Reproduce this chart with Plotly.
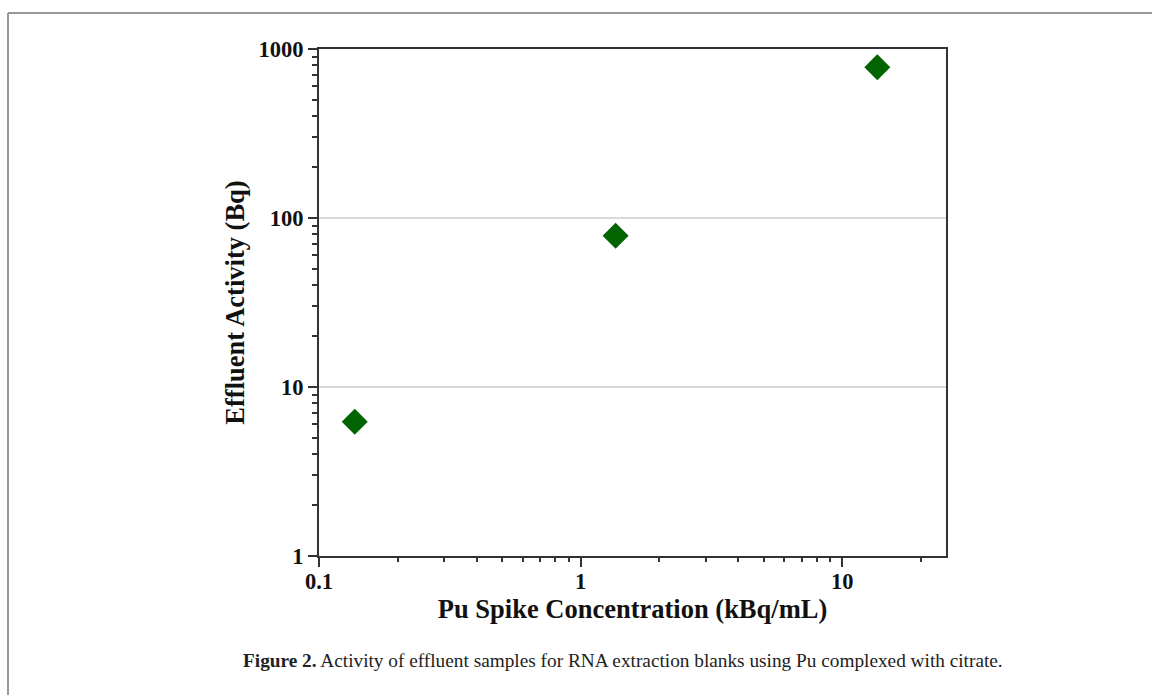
import plotly.graph_objects as go

# Data
spike_conc = [0.137, 1.36, 13.6]          # kBq/mL
effluent_activity = [6.23, 78.5, 779.0]   # Bq

x_tickvals = [0.1, 1, 10]
x_ticktext = ["0.1", "1", "10"]
y_tickvals = [1, 10, 100, 1000]
y_ticktext = ["1", "10", "100", "1000"]

W, H = 1152, 695
L, R, T, B = 319, 206, 49, 139
pw, ph = W - L - R, H - T - B

def px2paper_x(px):
    return (px - L) / pw

def px2paper_y(py):
    return (H - B - py) / ph

fig = go.Figure()
fig.add_trace(go.Scatter(
    x=spike_conc, y=effluent_activity, mode="markers",
    marker=dict(symbol="diamond", size=20, color="#006400",
                line=dict(width=0)),
    showlegend=False,
))

tickfont = dict(family="Liberation Serif", size=22.5, color="#111", weight="bold")
titlefont = dict(family="Liberation Serif", size=26.5, color="#111", weight="bold")

fig.update_xaxes(
    type="log", range=[-1, 1.396],
    tickvals=x_tickvals, ticktext=x_ticktext,
    ticks="outside", ticklen=9, tickwidth=2, tickcolor="#333",
    minor=dict(ticks="outside", ticklen=4, tickwidth=2, tickcolor="#333",
               dtick="D1", showgrid=False),
    showline=True, linecolor="#333", linewidth=2, mirror=True,
    showgrid=False, zeroline=False,
    tickfont=tickfont, ticklabelstandoff=-5,
    title=dict(text="Pu Spike Concentration (kBq/mL)", font=titlefont, standoff=6),
)
fig.update_yaxes(
    type="log", range=[0, 3],
    tickvals=y_tickvals, ticktext=y_ticktext,
    ticks="outside", ticklen=9, tickwidth=2, tickcolor="#333",
    minor=dict(ticks="outside", ticklen=5, tickwidth=2, tickcolor="#333",
               dtick="D1", showgrid=False),
    showline=True, linecolor="#333", linewidth=2, mirror=True,
    showgrid=True, gridcolor="#d9d9d9", gridwidth=1.5, zeroline=False,
    tickfont=tickfont,
    title=dict(text="Effluent Activity (Bq)", font=titlefont, standoff=6),
)

# Page frame lines (decoration)
frame = dict(color="#999999", width=2)
fig.add_shape(type="line", xref="paper", yref="paper",
              x0=px2paper_x(8), x1=px2paper_x(1152), y0=px2paper_y(13), y1=px2paper_y(13),
              line=frame)
fig.add_shape(type="line", xref="paper", yref="paper",
              x0=px2paper_x(8), x1=px2paper_x(8), y0=px2paper_y(13), y1=px2paper_y(695),
              line=frame)

fig.add_annotation(
    text="<b>Figure 2.</b> Activity of effluent samples for RNA extraction blanks using Pu complexed with citrate.",
    xref="paper", yref="paper", x=px2paper_x(623), y=px2paper_y(660),
    xanchor="center", yanchor="middle", showarrow=False,
    font=dict(family="Liberation Serif", size=19.3, color="#222"),
)

fig.update_layout(
    width=W, height=H,
    margin=dict(l=L, r=R, t=T, b=B),
    paper_bgcolor="white", plot_bgcolor="white",
)

fig.write_html("out.html")
